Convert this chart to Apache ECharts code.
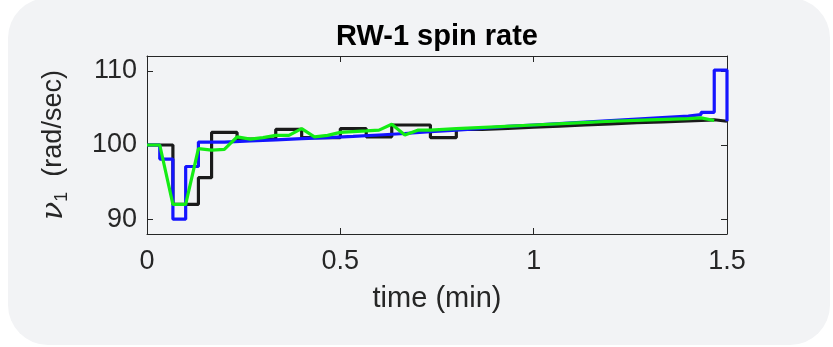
<!DOCTYPE html>
<html>
<head>
<meta charset="utf-8">
<script src="https://cdn.jsdelivr.net/npm/echarts@6/dist/echarts.min.js"></script>
<style>
  html, body { margin: 0; padding: 0; background: #ffffff; }
  #chart { width: 833px; height: 347px; }
</style>
</head>
<body>
<div id="chart"></div>
<script>
// Axis ticks
const xTicks = [0, 0.5, 1, 1.5];
const yTicks = [90, 100, 110];

// Commanded wheel speed (zero-order hold)
const blackTime = [0, 0.067, 0.133, 0.167, 0.233, 0.333, 0.4, 0.5, 0.567, 0.633, 0.733, 0.8,
  0.867, 0.933, 1.0, 1.067, 1.133, 1.2, 1.267, 1.333, 1.4, 1.467, 1.5];
const blackRate = [100, 92, 95.6, 101.7, 100.8, 102.1, 101.0, 102.2, 101.1, 102.7, 101.0, 102.1,
  102.25, 102.4, 102.55, 102.7, 102.85, 103.0, 103.1, 103.25, 103.4, 103.2, 103.2];

// Sampled wheel speed (zero-order hold)
const blueTime = [0, 0.033, 0.067, 0.1, 0.133, 0.2, 0.267, 0.333, 0.4, 0.467, 0.533, 0.6,
  0.667, 0.733, 0.8, 0.867, 0.933, 1.0, 1.067, 1.133, 1.2, 1.267, 1.333, 1.4, 1.433, 1.467, 1.5];
const blueRate = [100, 98.1, 90, 97.1, 100.4, 100.55, 100.7, 100.85, 101.0, 101.15, 101.35, 101.55,
  101.8, 102.0, 102.25, 102.5, 102.7, 102.9, 103.1, 103.3, 103.5, 103.7, 103.9, 104.1, 104.4, 110.1, 103.2];

// Estimated wheel speed
const greenTime = [0, 0.033, 0.067, 0.1, 0.133, 0.167, 0.2, 0.233, 0.267, 0.3, 0.333, 0.367,
  0.4, 0.433, 0.467, 0.5, 0.533, 0.567, 0.6, 0.633, 0.667, 0.7, 0.733, 0.767, 0.8,
  0.9, 1.0, 1.1, 1.2, 1.3, 1.4, 1.433, 1.467];
const greenRate = [100, 100, 92, 92, 99.5, 99.3, 99.4, 101.1, 100.8, 101.0, 101.3, 101.3,
  102.2, 101.1, 101.3, 101.7, 101.8, 101.9, 102.0, 102.8, 101.35, 102.0, 102.0, 102.1, 102.2,
  102.45, 102.7, 102.95, 103.2, 103.4, 103.55, 103.65, 103.3];

const pairs = (ts, vs) => ts.map((t, i) => [t, vs[i]]);

const axisColor = '#262626';
const labelColor = '#262626';
const font = 'Liberation Sans, Arial, sans-serif';

const chart = echarts.init(document.getElementById('chart'), null, { renderer: 'canvas' });

const baseX = {
  type: 'value', min: 0, max: 1.5, interval: 0.5,
  axisLine: { show: true, onZero: false, lineStyle: { color: axisColor, width: 1 } },
  axisTick: { show: true, inside: true, length: 6, lineStyle: { color: axisColor } },
  splitLine: { show: false }
};
const baseY = {
  type: 'value', min: 88, max: 112,
  axisLine: { show: true, onZero: false, lineStyle: { color: axisColor, width: 1 } },
  axisTick: { show: true, inside: true, length: 6, customValues: yTicks, lineStyle: { color: axisColor } },
  splitLine: { show: false }
};

chart.setOption({
  animation: false,
  backgroundColor: 'transparent',
  graphic: [{
    type: 'rect', z: -10, silent: true,
    shape: { x: 8, y: -2, width: 822, height: 347, r: 40 },
    style: { fill: '#f2f3f5' }
  }, {
    type: 'text', silent: true,
    x: 437, y: 37,
    style: {
      text: 'RW-1 spin rate', fill: '#000000',
      font: 'bold 29px ' + font, align: 'center', verticalAlign: 'middle'
    }
  }],
  grid: { left: 147, top: 56, width: 580, height: 178, show: false },
  xAxis: [
    Object.assign({}, baseX, {
      position: 'bottom',
      name: 'time (min)', nameLocation: 'middle', nameGap: 50,
      nameTextStyle: { color: labelColor, fontSize: 29, fontFamily: font },
      axisLabel: {
        show: true, color: labelColor, fontSize: 27, fontFamily: font, margin: 14,
        customValues: xTicks,
        formatter: v => String(v)
      }
    }),
    Object.assign({}, baseX, { position: 'top', axisLabel: { show: false } })
  ],
  yAxis: [
    Object.assign({}, baseY, {
      position: 'left',
      name: '{nu|ν}{sub|1}  (rad/sec)',
      nameLocation: 'middle', nameRotate: 90, nameGap: 76,
      nameTextStyle: {
        color: labelColor, fontSize: 27, fontFamily: font,
        rich: {
          nu: { fontSize: 30, fontStyle: 'italic', fontFamily: 'DejaVu Serif, serif', color: labelColor },
          sub: { fontSize: 18, fontFamily: font, color: labelColor, padding: [16, 0, 0, 0] }
        }
      },
      axisLabel: {
        show: true, color: labelColor, fontSize: 27, fontFamily: font, margin: 10,
        customValues: yTicks
      }
    }),
    Object.assign({}, baseY, { position: 'right', axisLabel: { show: false } })
  ],
  series: [
    {
      type: 'line', step: 'end', data: pairs(blackTime, blackRate),
      showSymbol: false, lineStyle: { color: '#1a1a1a', width: 3.2 }, z: 3
    },
    {
      type: 'line', step: 'end', data: pairs(blueTime, blueRate),
      showSymbol: false, lineStyle: { color: '#1414ff', width: 3.2 }, z: 4
    },
    {
      type: 'line', data: pairs(greenTime, greenRate),
      showSymbol: false, lineStyle: { color: '#14ec14', width: 3.2 }, z: 5
    }
  ]
});
</script>
</body>
</html>
